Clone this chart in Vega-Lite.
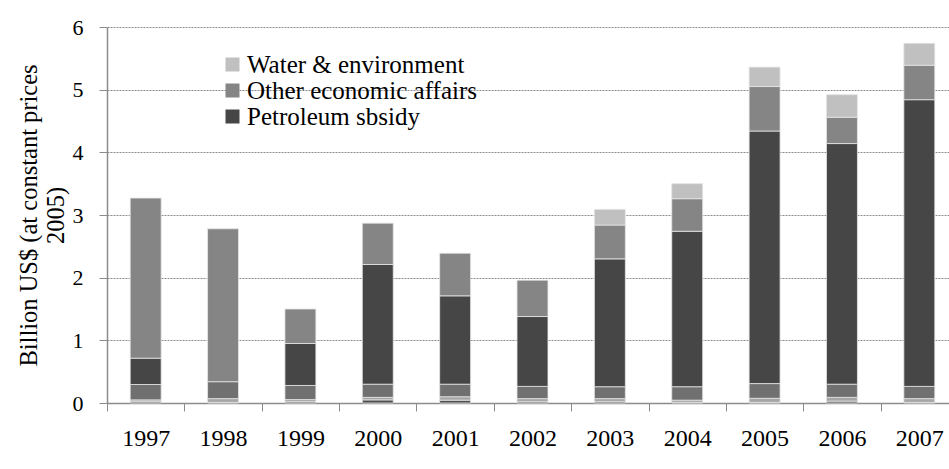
{
  "$schema": "https://vega.github.io/schema/vega-lite/v6.json",
  "autosize": "none",
  "padding": {"left": 107, "top": 27, "right": -9, "bottom": 66},
  "width": 851,
  "height": 376,
  "background": "white",
  "config": {
    "font": "Liberation Serif",
    "view": {"stroke": null},
    "style": {"guide-label": {"font": "Liberation Serif"}, "guide-title": {"font": "Liberation Serif"}}
  },
  "data": {
    "values": [
      {"year": "1997", "series": "Item A", "ord": 1, "value": 0.02},
      {"year": "1997", "series": "Item B", "ord": 2, "value": 0.03},
      {"year": "1997", "series": "Item C", "ord": 3, "value": 0.245},
      {"year": "1997", "series": "Petroleum sbsidy", "ord": 4, "value": 0.42},
      {"year": "1997", "series": "Other economic affairs", "ord": 5, "value": 2.555},
      {"year": "1998", "series": "Item A", "ord": 1, "value": 0.01},
      {"year": "1998", "series": "Item B", "ord": 2, "value": 0.06},
      {"year": "1998", "series": "Item C", "ord": 3, "value": 0.27},
      {"year": "1998", "series": "Other economic affairs", "ord": 5, "value": 2.44},
      {"year": "1999", "series": "Item A", "ord": 1, "value": 0.02},
      {"year": "1999", "series": "Item B", "ord": 2, "value": 0.035},
      {"year": "1999", "series": "Item C", "ord": 3, "value": 0.225},
      {"year": "1999", "series": "Petroleum sbsidy", "ord": 4, "value": 0.67},
      {"year": "1999", "series": "Other economic affairs", "ord": 5, "value": 0.55},
      {"year": "2000", "series": "Item A", "ord": 1, "value": 0.05},
      {"year": "2000", "series": "Item B", "ord": 2, "value": 0.04},
      {"year": "2000", "series": "Item C", "ord": 3, "value": 0.21},
      {"year": "2000", "series": "Petroleum sbsidy", "ord": 4, "value": 1.91},
      {"year": "2000", "series": "Other economic affairs", "ord": 5, "value": 0.66},
      {"year": "2001", "series": "Item A", "ord": 1, "value": 0.045},
      {"year": "2001", "series": "Item B", "ord": 2, "value": 0.055},
      {"year": "2001", "series": "Item C", "ord": 3, "value": 0.2},
      {"year": "2001", "series": "Petroleum sbsidy", "ord": 4, "value": 1.41},
      {"year": "2001", "series": "Other economic affairs", "ord": 5, "value": 0.68},
      {"year": "2002", "series": "Item A", "ord": 1, "value": 0.02},
      {"year": "2002", "series": "Item B", "ord": 2, "value": 0.05},
      {"year": "2002", "series": "Item C", "ord": 3, "value": 0.195},
      {"year": "2002", "series": "Petroleum sbsidy", "ord": 4, "value": 1.115},
      {"year": "2002", "series": "Other economic affairs", "ord": 5, "value": 0.58},
      {"year": "2003", "series": "Item A", "ord": 1, "value": 0.02},
      {"year": "2003", "series": "Item B", "ord": 2, "value": 0.05},
      {"year": "2003", "series": "Item C", "ord": 3, "value": 0.19},
      {"year": "2003", "series": "Petroleum sbsidy", "ord": 4, "value": 2.04},
      {"year": "2003", "series": "Other economic affairs", "ord": 5, "value": 0.54},
      {"year": "2003", "series": "Water & environment", "ord": 6, "value": 0.25},
      {"year": "2004", "series": "Item A", "ord": 1, "value": 0.01},
      {"year": "2004", "series": "Item B", "ord": 2, "value": 0.035},
      {"year": "2004", "series": "Item C", "ord": 3, "value": 0.215},
      {"year": "2004", "series": "Petroleum sbsidy", "ord": 4, "value": 2.48},
      {"year": "2004", "series": "Other economic affairs", "ord": 5, "value": 0.52},
      {"year": "2004", "series": "Water & environment", "ord": 6, "value": 0.24},
      {"year": "2005", "series": "Item A", "ord": 1, "value": 0.01},
      {"year": "2005", "series": "Item B", "ord": 2, "value": 0.065},
      {"year": "2005", "series": "Item C", "ord": 3, "value": 0.235},
      {"year": "2005", "series": "Petroleum sbsidy", "ord": 4, "value": 4.03},
      {"year": "2005", "series": "Other economic affairs", "ord": 5, "value": 0.71},
      {"year": "2005", "series": "Water & environment", "ord": 6, "value": 0.31},
      {"year": "2006", "series": "Item A", "ord": 1, "value": 0.03},
      {"year": "2006", "series": "Item B", "ord": 2, "value": 0.06},
      {"year": "2006", "series": "Item C", "ord": 3, "value": 0.21},
      {"year": "2006", "series": "Petroleum sbsidy", "ord": 4, "value": 3.84},
      {"year": "2006", "series": "Other economic affairs", "ord": 5, "value": 0.42},
      {"year": "2006", "series": "Water & environment", "ord": 6, "value": 0.36},
      {"year": "2007", "series": "Item A", "ord": 1, "value": 0.01},
      {"year": "2007", "series": "Item B", "ord": 2, "value": 0.06},
      {"year": "2007", "series": "Item C", "ord": 3, "value": 0.195},
      {"year": "2007", "series": "Petroleum sbsidy", "ord": 4, "value": 4.575},
      {"year": "2007", "series": "Other economic affairs", "ord": 5, "value": 0.55},
      {"year": "2007", "series": "Water & environment", "ord": 6, "value": 0.35}
    ]
  },
  "mark": {"type": "bar", "stroke": "#e6e6e6", "strokeWidth": 0.8},
  "encoding": {
    "x": {
      "field": "year",
      "type": "nominal",
      "scale": {"paddingInner": 0.6, "paddingOuter": 0.3},
      "axis": {
        "title": null,
        "labelAngle": 0,
        "labelFont": "Liberation Serif",
        "labelFontSize": 24,
        "labelColor": "black",
        "labelPadding": 15,
        "tickSize": 8,
        "tickColor": "#8c8c8c",
        "domainColor": "#8c8c8c",
        "domainWidth": 1.5,
        "tickOffset": -38.68,
        "labelOffset": 38.68,
        "grid": false
      }
    },
    "y": {
      "field": "value",
      "type": "quantitative",
      "aggregate": "sum",
      "stack": "zero",
      "scale": {"domain": [0, 6], "nice": false},
      "axis": {
        "title": ["Billion US$ (at constant prices", "2005)"],
        "titleFont": "Liberation Serif",
        "titleFontSize": 24.5,
        "titleFontWeight": "normal",
        "titleColor": "black",
        "titlePadding": 4,
        "titleLineHeight": 27,
        "values": [0, 1, 2, 3, 4, 5, 6],
        "labelFont": "Liberation Serif",
        "labelFontSize": 22,
        "labelColor": "black",
        "labelPadding": 16,
        "tickSize": 8,
        "tickColor": "#8c8c8c",
        "domainColor": "#8c8c8c",
        "domainWidth": 1.5,
        "grid": true,
        "gridColor": "#8c8c8c",
        "gridDash": [2, 1],
        "gridWidth": 1
      }
    },
    "color": {
      "field": "series",
      "type": "nominal",
      "scale": {
        "domain": ["Water & environment", "Other economic affairs", "Petroleum sbsidy", "Item C", "Item B", "Item A"],
        "range": ["#c0c0c0", "#858585", "#464646", "#707070", "#a6a6a6", "#505050"]
      },
      "legend": {
        "title": null,
        "values": ["Water & environment", "Other economic affairs", "Petroleum sbsidy"],
        "orient": "none",
        "legendX": 113,
        "legendY": 25,
        "padding": 0,
        "symbolType": "square",
        "symbolSize": 196,
        "symbolStrokeWidth": 0,
        "labelFont": "Liberation Serif",
        "labelFontSize": 25,
        "labelColor": "black",
        "labelOffset": 2,
        "rowPadding": -1.5,
        "labelLimit": 400
      }
    },
    "order": {"field": "ord", "type": "quantitative", "sort": "ascending"}
  }
}
